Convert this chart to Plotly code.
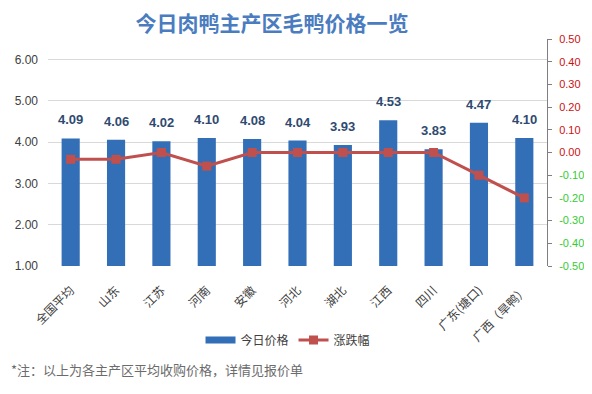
import plotly.graph_objects as go

categories = ["全国平均", "山东", "江苏", "河南", "安徽", "河北", "湖北", "江西", "四川", "广东(塘口)", "广西（旱鸭）"]
prices = [4.09, 4.06, 4.02, 4.10, 4.08, 4.04, 3.93, 4.53, 3.83, 4.47, 4.10]
changes = [-0.03, -0.03, 0.00, -0.06, 0.00, 0.00, 0.00, 0.00, 0.00, -0.10, -0.20]
left_ticks = [1, 2, 3, 4, 5, 6]
right_ticks = [0.5, 0.4, 0.3, 0.2, 0.1, 0.0, -0.1, -0.2, -0.3, -0.4, -0.5]

FONT = "Noto Sans CJK SC, Liberation Sans, sans-serif"
NUMFONT = "Liberation Sans, Arial, sans-serif"
BAR = "#336fb6"
LINE = "#c0504d"

fig = go.Figure()
fig.add_trace(go.Bar(
    x=categories, y=prices, name="今日价格",
    marker=dict(color=BAR, line=dict(width=0)),
    yaxis="y", showlegend=False,
))
# legend entry drawn as a wide flat swatch like the original
fig.add_trace(go.Scatter(
    x=[None], y=[None], name="今日价格", mode="lines",
    line=dict(color=BAR, width=7), yaxis="y",
))
fig.add_trace(go.Scatter(
    x=categories, y=changes, name="涨跌幅", mode="lines+markers",
    line=dict(color=LINE, width=3),
    marker=dict(symbol="square", size=9, color=LINE),
    yaxis="y2",
))

for c, p in zip(categories, prices):
    fig.add_annotation(x=c, y=p, xref="x", yref="y", text=f"<b>{p:.2f}</b>",
                       showarrow=False, yanchor="bottom", yshift=9,
                       font=dict(size=13, color="#2f4a70", family=NUMFONT))

def rt(v):
    col = "#cc1111" if v >= 0 else "#33cc33"
    return f'<span style="color:{col}">{v:.2f}</span>'

fig.add_annotation(x=-0.078, y=-0.458, xref="paper", yref="paper",
                   text="*注：以上为各主产区平均收购价格，详情见报价单",
                   showarrow=False, xanchor="left", yanchor="middle",
                   font=dict(size=13, color="#6b6b6b", family=FONT))

fig.update_layout(
    width=584, height=386,
    margin=dict(l=40, r=45, t=31, b=128, autoexpand=False),
    paper_bgcolor="white", plot_bgcolor="white",
    font=dict(family=FONT, color="#404040", size=12),
    title=dict(text="<b>今日肉鸭主产区毛鸭价格一览</b>", x=0.452, xanchor="center",
               y=0.9585, yanchor="middle", xref="container", yref="container",
               font=dict(size=21, color="#4a7cbf", family=FONT)),
    bargap=0.6,
    showlegend=True,
    legend=dict(orientation="h", x=0.481, xanchor="center", y=-0.326, yanchor="middle",
                font=dict(size=12, color="#404040", family=FONT), itemwidth=30,
                tracegroupgap=0),
    xaxis=dict(range=[-0.5, len(categories) - 0.5], tickangle=-45,
               tickfont=dict(size=12, color="#404040"), showline=False,
               showgrid=False, ticks="", ticklabelstandoff=14),
    yaxis=dict(range=[1, 6.5], tickvals=left_ticks, ticktext=[f"{v:.2f}" for v in left_ticks],
               showgrid=True, gridcolor="#d9d9d9", gridwidth=1, zeroline=False,
               tickfont=dict(size=12, color="#404040", family=NUMFONT), showline=False,
               ticks="", ticklabelstandoff=9),
    yaxis2=dict(range=[-0.5, 0.5], overlaying="y", side="right",
                tickvals=right_ticks, ticktext=[rt(v) for v in right_ticks],
                showgrid=False, zeroline=False, showline=True, linecolor="#7f7f7f",
                ticks="outside", ticklen=4, tickcolor="#7f7f7f", ticklabelstandoff=5,
                tickfont=dict(size=11, family=NUMFONT)),
)

fig.write_html("out.html")
